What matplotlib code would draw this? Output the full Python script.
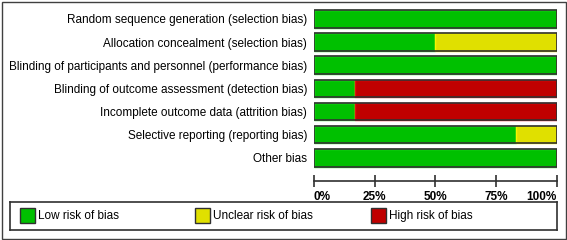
import matplotlib
matplotlib.use("Agg")
import matplotlib.pyplot as plt
from matplotlib.patches import Rectangle

plt.rcParams['font.family'] = ['Liberation Sans', 'DejaVu Sans']

domains = [
    "Random sequence generation (selection bias)",
    "Allocation concealment (selection bias)",
    "Blinding of participants and personnel (performance bias)",
    "Blinding of outcome assessment (detection bias)",
    "Incomplete outcome data (attrition bias)",
    "Selective reporting (reporting bias)",
    "Other bias",
]
low = [100, 50, 100, 16.7, 16.7, 83.3, 100]
unclear = [0, 50, 0, 0, 0, 16.7, 0]
high = [0, 0, 0, 83.3, 83.3, 0, 0]
ticks = [0, 25, 50, 75, 100]
tick_labels = ["0%", "25%", "50%", "75%", "100%"]
legend_labels = ["Low risk of bias", "Unclear risk of bias", "High risk of bias"]

c_low, c_unc, c_high = "#00c000", "#e0e000", "#c00000"
e_low, e_unc, e_high = "#33e633", "#f5f500", "#e01010"
dark = "#303030"

W, H = 567, 240
fig = plt.figure(figsize=(W / 100, H / 100), dpi=100)

# outer frame
fig.patches.append(Rectangle((1.5 / W, 1.5 / H), (W - 3) / W, (H - 3) / H,
                             transform=fig.transFigure, fill=False,
                             edgecolor="#404040", linewidth=1))

ax = fig.add_axes([314 / W, (H - 181) / H, 243 / W, 173 / H])
ypos = list(range(len(domains)))
h = 0.76
left2 = [a + b for a, b in zip(low, unclear)]
ax.barh(ypos, low, height=h, color=c_low, edgecolor=e_low, linewidth=1)
ax.barh(ypos, unclear, left=low, height=h, color=c_unc, edgecolor=e_unc, linewidth=1)
ax.barh(ypos, high, left=left2, height=h, color=c_high, edgecolor=e_high, linewidth=1)
totals = [a + b + c for a, b, c in zip(low, unclear, high)]
ax.barh(ypos, totals, height=h, fill=False, edgecolor=dark, linewidth=1.2)

ax.set_xlim(0, 100)
ax.set_ylim(7.0, -0.47)
ax.set_yticks(ypos)
ax.set_yticklabels(domains, fontsize=8.5)
ax.tick_params(axis="y", length=0, pad=5)
ax.set_xticks(ticks)
ax.set_xticklabels(tick_labels, fontsize=8.5, fontweight="bold")
ax.tick_params(axis="x", direction="inout", length=8, width=1.2, color=dark, pad=3)
for lab, al in zip(ax.get_xticklabels(), ["left", "center", "center", "center", "right"]):
    lab.set_ha(al)
for s in ["top", "left", "right"]:
    ax.spines[s].set_visible(False)
ax.spines["bottom"].set_color(dark)
ax.spines["bottom"].set_linewidth(1.2)
ax.patch.set_visible(False)

# legend box
lax = fig.add_axes([10 / W, (H - 230) / H, 547 / W, 28 / H])
lax.set_xlim(10, 557)
lax.set_ylim(230, 202)
lax.set_xticks([])
lax.set_yticks([])
for s in lax.spines.values():
    s.set_color(dark)
    s.set_linewidth(1.2)
for x0, c, lab in zip([20, 195, 371], [c_low, c_unc, c_high], legend_labels):
    lax.add_patch(Rectangle((x0, 208), 15, 15, facecolor=c, edgecolor=dark, linewidth=1))
    lax.text(x0 + 18, 215.5, lab, fontsize=8.5, va="center", ha="left")

fig.savefig("out.png", dpi=100)
